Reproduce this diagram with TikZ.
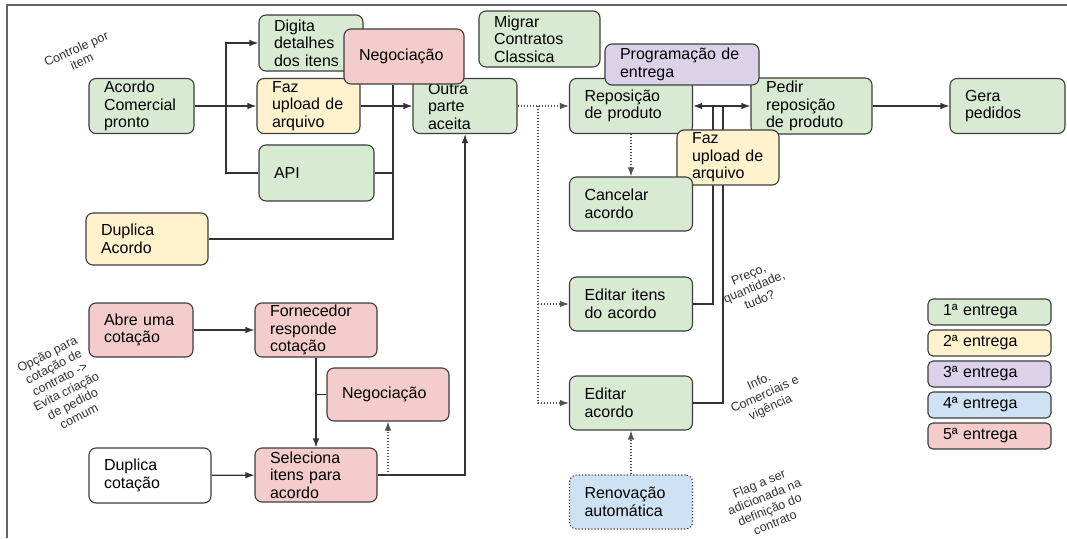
\documentclass[tikz,border=0pt]{standalone}
\usepackage{fontspec}
\setmainfont{Liberation Sans}
\usepackage{tikz}
\usetikzlibrary{positioning}
\usetikzlibrary{arrows.meta}
\usetikzlibrary{backgrounds}
\tikzset{>={Latex[length=9pt,width=6.5pt]}}
\definecolor{verde}{HTML}{D9EAD3}
\definecolor{amarelo}{HTML}{FFF2CC}
\definecolor{lilas}{HTML}{D9D2E9}
\definecolor{azul}{HTML}{CFE2F3}
\definecolor{rosa}{HTML}{F4CCCC}
\definecolor{borda}{HTML}{3D3D3D}
\definecolor{traco}{HTML}{333333}
\newcommand{\caixafonte}{\fontsize{16}{17.5}\selectfont}
\newcommand{\notafonte}{\fontsize{12.5}{14}\selectfont}

\begin{document}
\begin{tikzpicture}[x=1pt, y=-1pt,
      caixa/.style={draw=borda, line width=1.1pt, rounded corners=7pt,
        align=left, inner xsep=15pt, inner ysep=1pt, font=\caixafonte},
      wh/.style 2 args={minimum width=#1pt, text width=#1pt-30pt, minimum height=#2pt},
      nota/.style={align=center, font=\notafonte, text=traco},
      line/.style={draw=traco, line width=1.2pt},
      ponto/.style={draw=traco!85, line width=1.2pt, dash pattern=on 1.2pt off 1.8pt, ->}]
    \useasboundingbox (0,0) rectangle (1067,538);
    %% blocos de cima
    \node [caixa, wh={104}{56}, fill=verde] (digita) at (311,43) {Digita\\detalhes\\dos itens};
    \node [caixa, wh={121}{56}, fill=verde] (migrar) at (539.5,39) {Migrar\\Contratos\\Classica};
    \node [caixa, wh={105}{55}, fill=verde] (acordo) at (141.5,106) {Acordo\\Comercial\\pronto};
    \node [caixa, wh={103}{55}, fill=amarelo] (faz1) at (308.5,106) {Faz\\upload de\\arquivo};
    \node [caixa, wh={104}{55}, fill=verde] (outra) at (465,106) {Outra\\parte\\aceita};
    \node [caixa, wh={115}{56}, fill=verde] (api) at (316.5,173) {API};
    \node [caixa, wh={122}{52}, fill=amarelo] (dupacordo) at (147,239) {Duplica\\Acordo};
    \node [caixa, wh={120}{55}, fill=rosa] (nego1) at (404,56.5) {Negociação};
    %% reposicao
    \node [caixa, wh={123}{55}, fill=verde] (reposicao) at (631,106) {Reposição\\de produto};
    \node [caixa, wh={121}{56}, fill=verde] (pedir) at (811.5,106) {Pedir\\reposição\\de produto};
    \node [caixa, wh={115}{55}, fill=verde] (gera) at (1007.5,106) {Gera\\pedidos};
    \node [caixa, wh={154}{41}, fill=lilas] (prog) at (682,64.5) {Programação de\\entrega};
    \node [caixa, wh={102}{55}, fill=amarelo] (faz2) at (728,157.5) {Faz\\upload de\\arquivo};
    \node [caixa, wh={123}{54}, fill=verde] (cancelar) at (631,204) {Cancelar\\acordo};
    \node [caixa, wh={123}{54}, fill=verde] (editaritens) at (631,304) {Editar itens\\do acordo};
    \node [caixa, wh={123}{54}, fill=verde] (editaracordo) at (631,403) {Editar\\acordo};
    \node [caixa, wh={123}{54}, fill=azul, dash pattern=on 1.2pt off 2pt] (renovacao) at (631,502) {Renovação\\automática};
    %% cotacao
    \node [caixa, wh={104}{54}, fill=rosa] (abre) at (141,330) {Abre uma\\cotação};
    \node [caixa, wh={122}{54}, fill=rosa] (fornecedor) at (316,330) {Fornecedor\\responde\\cotação};
    \node [caixa, wh={122}{53}, fill=rosa] (nego2) at (388,394.5) {Negociação};
    \node [caixa, wh={122}{54}, fill=rosa] (seleciona) at (316,475) {Seleciona\\itens para\\acordo};
    \node [caixa, wh={122}{55}, fill=white] (dupcot) at (150,475.5) {Duplica\\cotação};
    %% legenda
    \foreach \nr/\cor [count=\i from 0] in {1/verde,2/amarelo,3/lilas,4/azul,5/rosa}
      \node [caixa, wh={123}{26}, fill=\cor, rounded corners=5pt] (leg\nr) at (989.5,312+31*\i) {{\nr}ª entrega};
    %% notas
    \node [nota, rotate=24] (n1) at (79,55) {Controle por\\item};
    \node [nota, rotate=27] (n2) at (63,385) {Opção para\\cotação de\\contrato ->\\Evita criação\\de pedido\\comum};
    \node [nota, rotate=23] (n3) at (754,287) {Preço,\\quantidade,\\tudo?};
    \node [nota, rotate=24] (n4) at (765,395) {Info.\\Comerciais e\\vigência};
    \node [nota, rotate=22] (n5) at (767,503) {Flag a ser\\adicionada na\\definição do\\contrato};
    \begin{scope}[on background layer]
      \fill [white] (0,0) rectangle (1067,538);
      \draw [draw=borda!80, line width=1.2pt] (1067,5) -- (7,5) -- (7,538);
      %% acordo comercial
      \coordinate (div) at (226,106);
      \coordinate (junta) at (393,106);
      \draw [line, ->] (acordo) -- (faz1);
      \draw [line, ->] (div) |- (digita);
      \draw [line] (div) |- (api);
      \draw [line, ->] (faz1) -- (outra);
      \draw [line] (junta |- nego1.south) -- (junta |- dupacordo.east) -- (dupacordo);
      \draw [line] (api.east) -- (api.east -| junta);
      \draw [line, ->] (seleciona) -| (outra);
      %% reposicao e edicao
      \coordinate (desce) at (538,106);
      \coordinate (sobe1) at (713,106);
      \coordinate (sobe2) at (723,106);
      \draw [ponto] (outra) -- (reposicao);
      \draw [ponto] (desce) |- (editaritens);
      \draw [ponto] (desce) |- (editaracordo);
      \draw [ponto] (reposicao) -- (cancelar);
      \draw [line, <->] (reposicao) -- (pedir);
      \draw [line, ->] (pedir) -- (gera);
      \draw [line] (editaritens) -| (sobe1);
      \draw [line] (editaracordo) -| (sobe2);
      \draw [ponto] (renovacao) -- (editaracordo);
      %% cotacao
      \draw [line, ->] (abre) -- (fornecedor);
      \draw [line, ->] (fornecedor) -- (seleciona);
      \draw [line] (fornecedor |- nego2.west) -- (nego2);
      \draw [ponto] (seleciona.east -| nego2.south) -- (nego2);
      \draw [line, ->] (dupcot) -- (seleciona);
    \end{scope}
  \end{tikzpicture}
\end{document}
